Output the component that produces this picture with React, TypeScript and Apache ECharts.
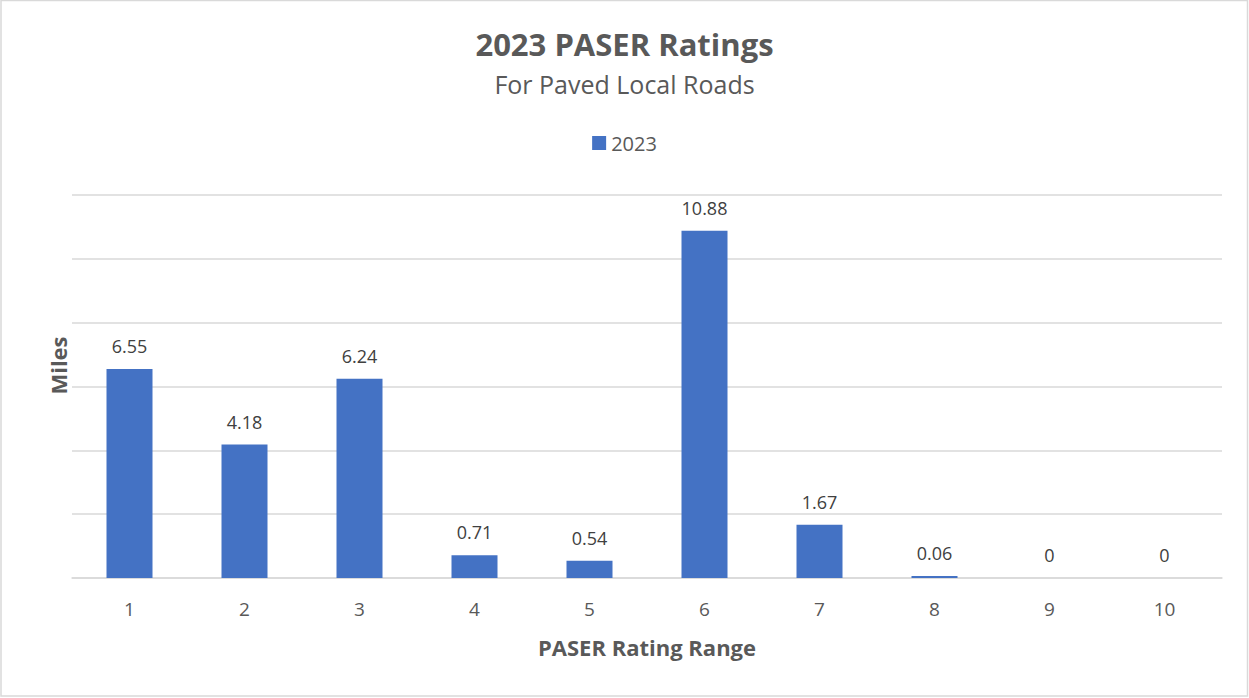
import React, { useEffect, useRef } from "react";
import * as echarts from "echarts";

const categories = ["1", "2", "3", "4", "5", "6", "7", "8", "9", "10"];
const values2023 = [6.55, 4.18, 6.24, 0.71, 0.54, 10.88, 1.67, 0.06, 0, 0];
const seriesName = "2023";

const FONT = "'Open Sans', 'Noto Sans', sans-serif";
const TEXT = "#595959";

export default function App() {
  const ref = useRef<HTMLDivElement>(null);
  useEffect(() => {
    if (!ref.current) return;
    const chart = echarts.init(ref.current, undefined, { renderer: "svg" });
    chart.setOption({
      animation: false,
      backgroundColor: "#ffffff",
      textStyle: { fontFamily: FONT },
      title: {
        text: "2023 PASER Ratings",
        subtext: "For Paved Local Roads",
        left: "center",
        top: 23,
        itemGap: 12,
        textStyle: { fontFamily: FONT, fontSize: 31, fontWeight: "bold", color: TEXT },
        subtextStyle: { fontFamily: FONT, fontSize: 25, color: TEXT },
      },
      legend: {
        data: [seriesName],
        top: 128,
        left: "center",
        itemWidth: 14,
        itemHeight: 14,
        itemGap: 6,
        icon: "rect",
        textStyle: { fontFamily: FONT, fontSize: 20, color: TEXT },
      },
      graphic: [
        {
          type: "rect",
          shape: { x: 1, y: 0.5, width: 1246.5, height: 695.5 },
          style: { fill: "none", stroke: "#d9d9d9", lineWidth: 1.5 },
          silent: true,
        },
      ],
      grid: { left: 72, right: 27, top: 195, bottom: 120, containLabel: false },
      xAxis: {
        type: "category",
        data: categories,
        name: "PASER Rating Range",
        nameLocation: "middle",
        nameGap: 58,
        nameTextStyle: { fontFamily: FONT, fontSize: 22, fontWeight: "bold", color: TEXT },
        axisLine: { show: true, lineStyle: { color: "#d9d9d9", width: 1.5 } },
        axisTick: { show: false },
        axisLabel: { fontFamily: FONT, fontSize: 19, color: TEXT, margin: 21 },
      },
      yAxis: {
        type: "value",
        min: 0,
        max: 12,
        interval: 2,
        name: "Miles",
        nameLocation: "middle",
        nameGap: 3,
        nameTextStyle: {
          fontFamily: FONT,
          fontSize: 22,
          fontWeight: "bold",
          color: TEXT,
          padding: [0, 0, 0, 42],
        },
        axisLabel: { show: false },
        axisLine: { show: false },
        axisTick: { show: false },
        splitLine: { lineStyle: { color: "#d9d9d9", width: 1.5 } },
      },
      series: [
        {
          name: seriesName,
          type: "bar",
          data: values2023,
          barWidth: "40%",
          itemStyle: { color: "#4472c4" },
          label: {
            show: true,
            position: "top",
            distance: 14,
            fontFamily: FONT,
            fontSize: 18,
            color: "#404040",
          },
        },
      ],
    });
    return () => chart.dispose();
  }, []);
  return (
    <div
      ref={ref}
      style={{ position: "fixed", left: 0, top: 0, width: 1249, height: 698 }}
    />
  );
}
